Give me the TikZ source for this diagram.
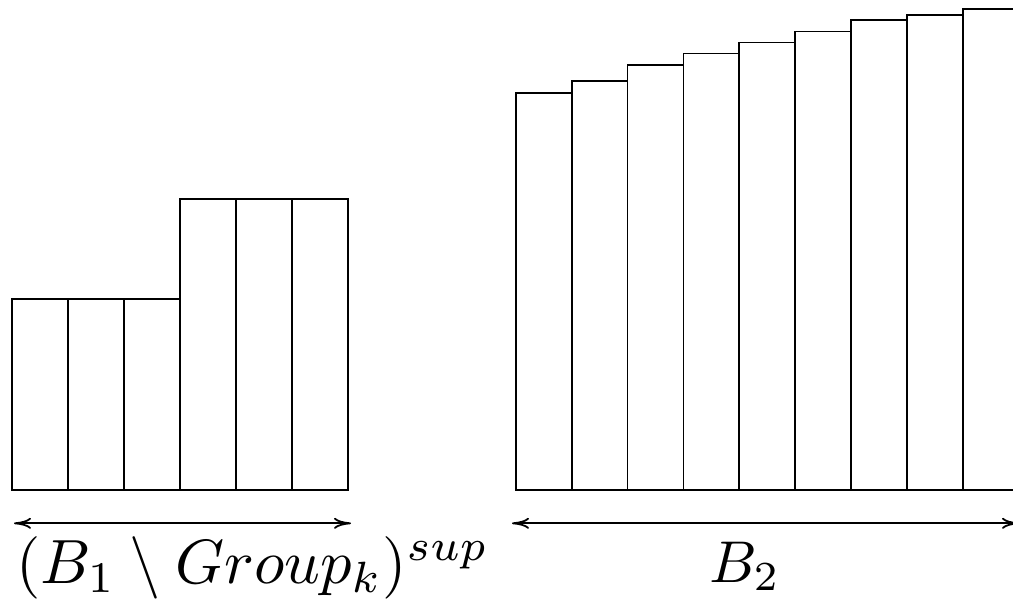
\documentclass[tikz,border=0pt]{standalone}
\usepackage{amsmath}
\usetikzlibrary{arrows.meta}
\begin{document}
\begin{tikzpicture}[x=1pt,y=-1pt,
  bar/.style={draw=black,line width=1.8pt,line join=miter},
  span/.style={{To[length=17pt,width=11pt]}-{To[length=17pt,width=11pt]},line width=1.8pt},
  lbl/.style={inner sep=0pt,anchor=base west}]
\useasboundingbox (0,0) rectangle (1013,600);
% left group
\foreach \xa/\top in {11.7/299.3,67.7/299.3,123.7/299.3,180/199.3,236/199.3,291.8/199.3}{
  \draw[bar] (\xa,490) rectangle ++(56,\top-490);
}
% right group
\foreach \i/\top in {0/93,1/81,2/65,3/53.5,4/42.5,5/31.5,6/20.3,7/14.8,8/9.3}{
  \draw[bar] (515.7+55.9*\i,490) rectangle ++(55.9,\top-490);
}
\coordinate (la) at (14,523.3);
\coordinate (lb) at (351,523.3);
\coordinate (ra) at (512,523.3);
\coordinate (rb) at (1019,523.3);
\draw[span] (la) -- (lb);
\draw[span] (ra) -- (rb);
\node[lbl,scale=6.25] (l1) at (15,583) {$(B_1\setminus Group_k)^{sup}$};
\node[lbl,scale=5.9] (l2) at (708,582) {$B_2$};
\end{tikzpicture}
\end{document}
